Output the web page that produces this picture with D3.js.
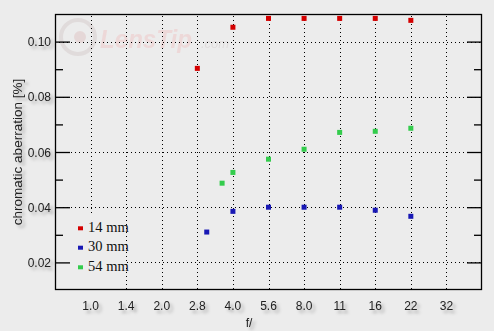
<!DOCTYPE html>
<html><head><meta charset="utf-8">
<script src="https://cdn.jsdelivr.net/npm/d3@7"></script>
<style>
html,body{margin:0;padding:0;background:#ececec;}
svg{display:block;}
</style></head>
<body>
<svg id="c" width="494" height="331"></svg>
<script>
const xTickLabels = ["1.0","1.4","2.0","2.8","4.0","5.6","8.0","11","16","22","32"];
const yTicks = [0.02,0.04,0.06,0.08,0.10];
const yMinorTicks = [0.03,0.05,0.07,0.09];
const seriesNames = ["14 mm","30 mm","54 mm"];
const seriesColors = ["#d40000","#1818b4","#33cc4c"];
const apert14 = [2.8,4.0,5.6,8.0,11,16,22];
const vals14 = [0.0903,0.1052,0.1084,0.1084,0.1084,0.1084,0.1077];
const apert30 = [3.1,4.0,5.6,8.0,11,16,22];
const vals30 = [0.0310,0.0385,0.0400,0.0400,0.0400,0.0389,0.0367];
const apert54 = [3.6,4.0,5.6,8.0,11,16,22];
const vals54 = [0.0487,0.0526,0.0574,0.0610,0.0671,0.0675,0.0686];

const series = [
  {name:seriesNames[0], color:seriesColors[0], pts:apert14.map((f,i)=>({f,v:vals14[i]}))},
  {name:seriesNames[1], color:seriesColors[1], pts:apert30.map((f,i)=>({f,v:vals30[i]}))},
  {name:seriesNames[2], color:seriesColors[2], pts:apert54.map((f,i)=>({f,v:vals54[i]}))}
];

// aperture -> stop index (nominal tick values snap to their stop)
function stop(f){
  const k = xTickLabels.findIndex(t=>+t===f);
  return k>=0 ? k : 2*Math.log2(f);
}

const L=55, R=482, T=14, B=290;
const x = d3.scaleLinear().domain([-1,11]).range([L,R]);
const y = d3.scaleLinear().domain([0.01,0.11]).range([B,T]);

const svg = d3.select("#c");
const defs = svg.append("defs");
const flt = defs.append("filter").attr("id","sh").attr("x","-30%").attr("y","-50%").attr("width","180%").attr("height","220%");
flt.append("feDropShadow").attr("dx",3).attr("dy",3).attr("stdDeviation",1.8).attr("flood-color","#000").attr("flood-opacity",0.28);

svg.append("rect").attr("width",494).attr("height",331).attr("fill","#ececec");

// watermark
const wm = svg.append("g").attr("opacity",0.5);
wm.append("circle").attr("cx",78).attr("cy",37).attr("r",17).attr("fill","none").attr("stroke","#d6cccc").attr("stroke-width",4);
wm.append("circle").attr("cx",80).attr("cy",37).attr("r",6).attr("fill","#e0c4c4");
wm.append("text").attr("x",100).attr("y",48).attr("font-family","Liberation Sans, Arial, sans-serif")
  .attr("font-size",25).attr("font-weight","bold").attr("font-style","italic").attr("fill","#eec6c6")
  .attr("textLength",92).attr("lengthAdjust","spacingAndGlyphs").text("LensTip");
wm.append("text").attr("x",201).attr("y",48).attr("font-family","Liberation Sans, Arial, sans-serif")
  .attr("font-size",13).attr("font-style","italic").attr("fill","#d4cccc").text(".com");

// grid
const grid = svg.append("g").attr("stroke","#000").attr("stroke-width",1).attr("stroke-dasharray","1,3");
grid.selectAll("line.v").data(xTickLabels).enter().append("line")
  .attr("x1",(d,i)=>Math.round(x(i))+0.5).attr("x2",(d,i)=>Math.round(x(i))+0.5)
  .attr("y1",T+2).attr("y2",B);
grid.selectAll("line.h").data(yTicks).enter().append("line")
  .attr("x1",L).attr("x2",R).attr("y1",d=>Math.round(y(d))+0.5).attr("y2",d=>Math.round(y(d))+0.5);

// legend background box (hides grid)
svg.append("rect").attr("x",L+1).attr("y",215).attr("width",Math.round(x(1))-L-2).attr("height",B-215-1).attr("fill","#ececec");

// frame
svg.append("rect").attr("x",L+0.5).attr("y",T+0.5).attr("width",R-L-1).attr("height",B-T-1)
  .attr("fill","none").attr("stroke","#000").attr("stroke-width",1.3);

// y ticks on both sides (inward)
function ticks(gx, gen){
  const g = svg.append("g").attr("transform",`translate(${gx},0)`).call(gen);
  g.select(".domain").remove();
  g.selectAll("line").attr("stroke-width",1.3);
}
ticks(L, d3.axisRight(y).tickValues(yTicks).tickSize(15).tickFormat(""));
ticks(L, d3.axisRight(y).tickValues(yMinorTicks).tickSize(8).tickFormat(""));
ticks(R, d3.axisLeft(y).tickValues(yTicks).tickSize(15).tickFormat(""));
ticks(R, d3.axisLeft(y).tickValues(yMinorTicks).tickSize(8).tickFormat(""));

// tick labels
const lab = svg.append("g").attr("font-family","Liberation Sans, Arial, sans-serif").attr("font-size",12)
  .attr("fill","#222").attr("filter","url(#sh)");
lab.selectAll("text.y").data(yTicks).enter().append("text")
  .attr("x",51).attr("y",d=>y(d)+4.5).attr("text-anchor","end").text(d=>d.toFixed(2));
lab.selectAll("text.x").data(xTickLabels).enter().append("text")
  .attr("x",(d,i)=>x(i)).attr("y",310).attr("text-anchor","middle").text(d=>d);
lab.append("text").attr("x",249).attr("y",327).attr("text-anchor","middle").text("f/");
lab.append("text").attr("transform","translate(22,152) rotate(-90)").attr("text-anchor","middle")
  .attr("font-size",13.5).text("chromatic aberration [%]");

// points
const pg = svg.append("g");
series.forEach(s=>{
  pg.selectAll(null).data(s.pts).enter().append("rect")
    .attr("x",d=>x(stop(d.f))-2.5).attr("y",d=>y(d.v)-2.5).attr("width",5).attr("height",5)
    .attr("fill",s.color);
});

// legend
const lg = svg.append("g").attr("font-family","Liberation Serif, Times New Roman, serif").attr("font-size",14.5).attr("fill","#111");
series.forEach((s,i)=>{
  const cy = [228.3,247.7,267.3][i];
  lg.append("rect").attr("x",78).attr("y",cy-2).attr("width",5).attr("height",4).attr("fill",s.color);
  lg.append("text").attr("x",88).attr("y",[232.3,251,270.7][i]).text(s.name);
});
</script>
</body></html>
